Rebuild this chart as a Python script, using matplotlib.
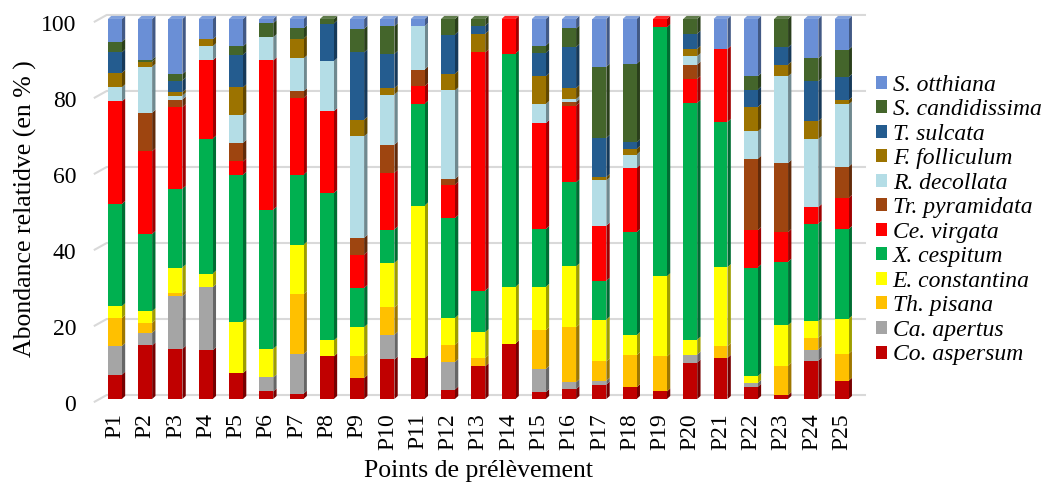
import matplotlib
matplotlib.use("Agg")
import matplotlib.pyplot as plt
from matplotlib.patches import Polygon, Patch
from matplotlib.colors import to_rgb
from matplotlib.transforms import ScaledTranslation
import numpy as np

plt.rcParams['font.family'] = ['Liberation Serif', 'DejaVu Serif']

points = ["P%d" % i for i in range(1, 26)]

# stacking order, bottom to top
species = ["Co. aspersum", "Ca. apertus", "Th. pisana", "E. constantina",
           "X. cespitum", "Ce. virgata", "Tr. pyramidata", "R. decollata",
           "F. folliculum", "T. sulcata", "S. candidissima", "S. otthiana"]
colors = ["#C00000", "#A5A5A5", "#FFC000", "#FFFF00",
          "#00B050", "#FF0000", "#9E4510", "#B4DDE6",
          "#9C7300", "#245C8F", "#44652B", "#6A8FD6"]

co_aspersum = [6.4, 14.1, 13.2, 12.8, 6.8, 2.0, 1.4, 11.2, 5.5, 10.4, 10.8, 2.5, 8.6,
               14.6, 1.8, 2.6, 3.8, 3.1, 2.0, 9.6, 10.8, 3.2, 1.0, 10.1, 4.8]
ca_apertus = [7.5, 3.3, 13.8, 16.6, 0, 3.7, 10.4, 0, 0, 6.5, 0, 7.2, 0,
              0, 6.1, 1.8, 1.0, 0, 0, 2.1, 0, 1.0, 0, 2.9, 0]
th_pisana = [7.4, 2.6, 0.9, 0, 0, 0, 15.8, 0, 5.9, 7.2, 0, 4.6, 2.2,
             0, 10.2, 14.5, 5.1, 8.4, 9.2, 0, 3.1, 0, 7.8, 3.1, 7.1]
e_constantina = [3.1, 3.1, 6.7, 3.6, 13.5, 7.5, 13.0, 4.2, 7.5, 11.7, 40.1, 7.0, 6.8,
                 14.9, 11.4, 16.0, 11.0, 5.3, 21.1, 3.9, 20.8, 1.8, 10.6, 4.3, 9.2]
x_cespitum = [26.9, 20.3, 20.7, 35.5, 38.7, 36.6, 18.4, 38.8, 10.3, 8.8, 26.8, 26.3, 10.9,
              61.4, 15.2, 22.1, 10.2, 27.1, 65.5, 62.3, 38.2, 28.6, 16.7, 25.7, 23.6]
ce_virgata = [27.0, 21.8, 21.5, 20.6, 3.5, 39.3, 20.2, 21.5, 8.8, 14.9, 4.6, 8.8, 62.7,
              9.1, 27.9, 20.2, 14.5, 16.9, 2.2, 6.3, 19.2, 9.8, 7.8, 4.4, 8.2]
tr_pyramidata = [0, 10.1, 2.0, 0, 4.9, 0, 1.8, 0, 4.4, 7.4, 4.4, 1.5, 0,
                 0, 0, 0.9, 0, 0, 0, 3.8, 0, 18.8, 18.2, 0, 8.2]
r_decollata = [3.7, 12.1, 1.0, 3.7, 7.2, 6.1, 8.6, 13.2, 26.7, 13.2, 11.4, 23.3, 0,
               0, 5.0, 0.8, 11.9, 3.5, 0, 2.2, 0, 7.2, 22.8, 17.9, 16.4]
f_folliculum = [3.8, 1.3, 0.9, 1.8, 7.4, 0, 5.2, 0, 4.4, 1.7, 0, 4.4, 4.9,
                0, 7.3, 2.9, 0.9, 1.5, 0, 1.9, 0, 6.4, 3.1, 4.7, 1.1]
t_sulcata = [5.4, 0, 3.1, 0, 8.6, 0, 0, 9.9, 17.7, 9.0, 0, 10.3, 2.1,
             0, 6.2, 10.8, 10.3, 1.7, 0, 4.0, 0, 4.6, 4.5, 10.5, 6.1]
s_candidissima = [2.8, 0.6, 1.7, 0, 2.2, 3.7, 2.7, 1.2, 6.2, 7.3, 0, 4.1, 1.8,
                  0, 1.9, 4.9, 18.7, 20.7, 0, 3.9, 0, 3.5, 7.5, 6.0, 7.2]
s_otthiana = [6.0, 10.7, 14.5, 5.4, 7.2, 1.1, 2.5, 0, 2.6, 1.9, 1.9, 0, 0,
              0, 7.0, 2.5, 12.6, 11.8, 0, 0, 7.9, 15.1, 0, 10.4, 8.1]

series = [co_aspersum, ca_apertus, th_pisana, e_constantina, x_cespitum, ce_virgata,
          tr_pyramidata, r_decollata, f_folliculum, t_sulcata, s_candidissima, s_otthiana]


def shade(c, f):
    r, g, b = to_rgb(c)
    return (r * f, g * f, b * f)


def tint(c, f):
    r, g, b = to_rgb(c)
    return (r + (1 - r) * f, g + (1 - g) * f, b + (1 - b) * f)


fig = plt.figure(figsize=(10.5, 4.86), dpi=100)
ax = fig.add_axes([0.095, 0.179, 0.721, 0.782])

x = np.arange(len(points))
w = 0.46
dx, dy = 0.11, 0.8

ax.set_xlim(-0.5, len(points) - 0.5)
ax.set_ylim(0, 100)

# back wall gridlines with a slanted floor part on the left
for gv in range(0, 101, 20):
    ax.plot([-0.665, -0.27, len(points) - 0.23], [gv - 0.7, gv + 1.05, gv + 1.05],
            color="#D9D9D9", lw=1.5, zorder=0, clip_on=False)

bottom = np.zeros(len(points))
for vals, c in zip(series, colors):
    vals = np.array(vals, dtype=float)
    ax.bar(x, vals, bottom=bottom, width=w, color=c, zorder=3, linewidth=0)
    for xi, b, h in zip(x, bottom, vals):
        if h <= 0:
            continue
        side = Polygon([(xi + w / 2, b), (xi + w / 2 + dx, b + dy),
                        (xi + w / 2 + dx, b + h + dy), (xi + w / 2, b + h)],
                       closed=True, facecolor=shade(c, 0.62), edgecolor="none",
                       zorder=2, clip_on=False)
        ax.add_patch(side)
    bottom = bottom + vals

# top caps coloured as the uppermost non-zero layer
for i, xi in enumerate(x):
    top_c = colors[0]
    for vals, c in zip(series, colors):
        if vals[i] > 0:
            top_c = c
    tot = bottom[i]
    cap = Polygon([(xi - w / 2, tot), (xi - w / 2 + dx, tot + dy),
                   (xi + w / 2 + dx, tot + dy), (xi + w / 2, tot)],
                  closed=True, facecolor=tint(top_c, 0.15), edgecolor="none",
                  zorder=4, clip_on=False)
    ax.add_patch(cap)

for s in ax.spines.values():
    s.set_visible(False)
ax.set_yticks(range(0, 101, 20))
ax.set_xticks(x)
ax.set_xticklabels(points, rotation=90, fontsize=17)
ax.tick_params(axis="y", labelsize=17, length=0, pad=17)
ax.tick_params(axis="x", length=0, pad=10)
for lab in ax.get_yticklabels():
    lab.set_transform(lab.get_transform() + ScaledTranslation(0, -3 / 72, fig.dpi_scale_trans))

ax.set_ylabel("Abondance relatidve (en % )", fontsize=18.5)
ax.yaxis.set_label_coords(-0.083, 0.5)
ax.set_xlabel("Points de prélèvement", fontsize=18.5)
ax.xaxis.set_label_coords(0.5, -0.16)

handles = [Patch(facecolor=c, label=s) for s, c in zip(species, colors)][::-1]
leg = ax.legend(handles=handles, loc="center left", bbox_to_anchor=(1.025, 0.471),
                frameon=False, prop={"style": "italic", "size": 17},
                handlelength=0.47, handleheight=0.47, handletextpad=0.25,
                labelspacing=0.15, borderaxespad=0, borderpad=0)

fig.savefig("out.png", dpi=100)
